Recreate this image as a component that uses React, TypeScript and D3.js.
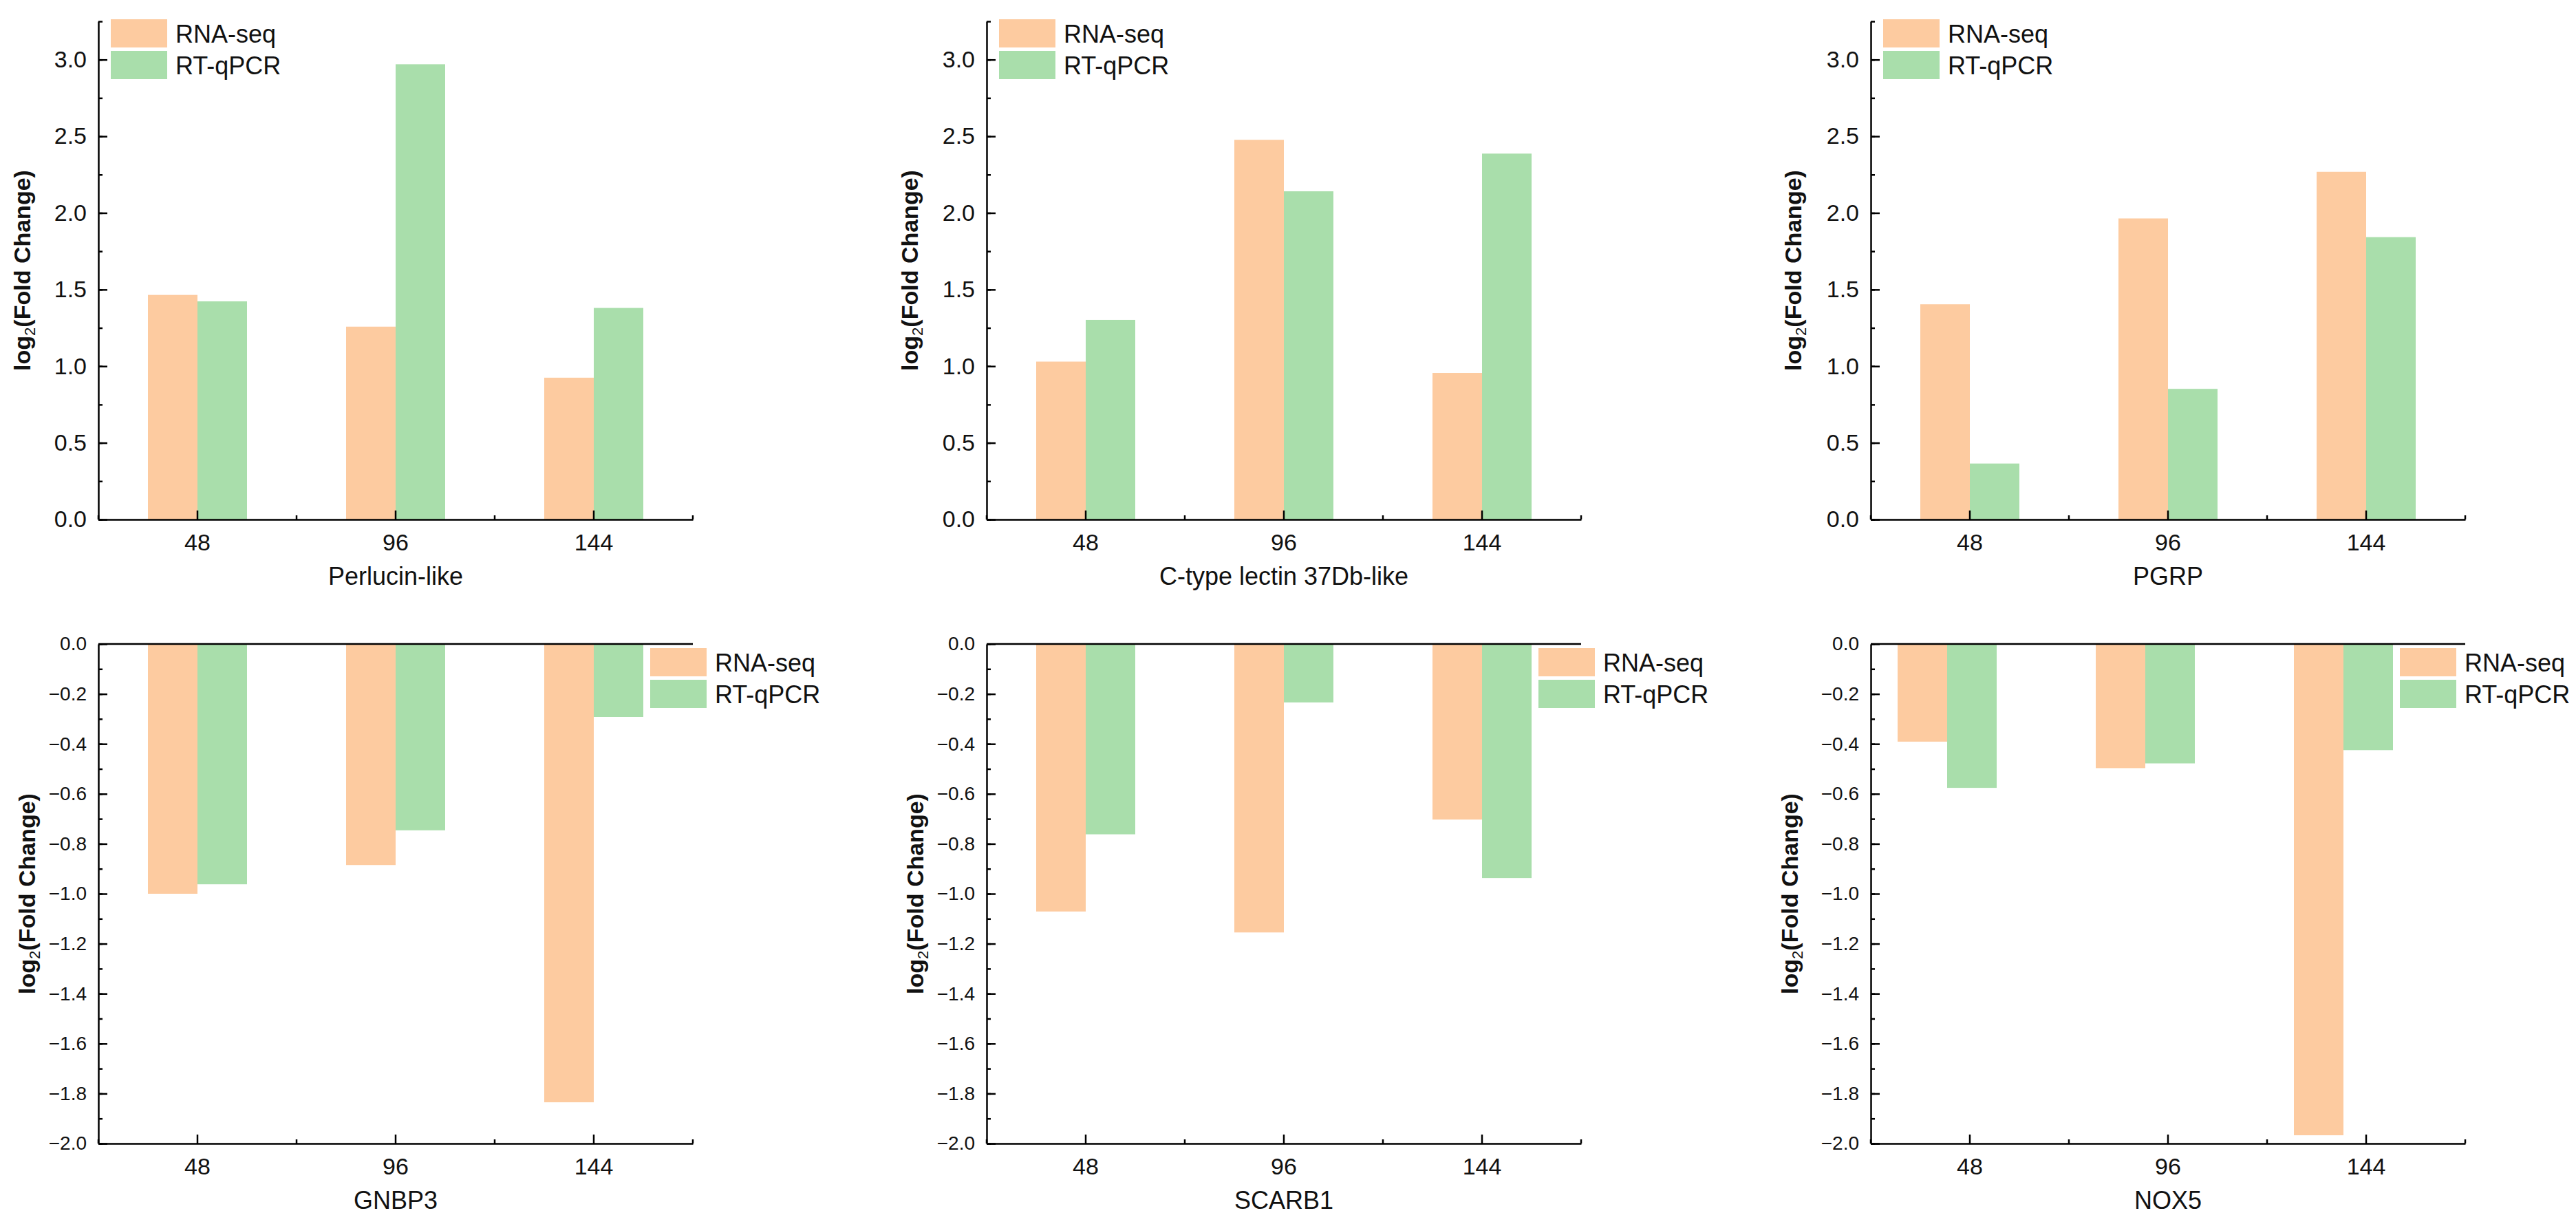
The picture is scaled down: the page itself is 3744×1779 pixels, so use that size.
import { useEffect, useRef } from 'react';
import * as d3 from 'd3';

// time points (h)
const hours = ['48', '96', '144'];
const seriesNames = ['RNA-seq', 'RT-qPCR'];

// log2 fold change
const perlucinRnaSeq = [1.465, 1.258, 0.925];
const perlucinQpcr = [1.423, 2.97, 1.38];
const lectinRnaSeq = [1.03, 2.477, 0.956];
const lectinQpcr = [1.302, 2.141, 2.387];
const pgrpRnaSeq = [1.404, 1.964, 2.268];
const pgrpQpcr = [0.365, 0.852, 1.842];
const gnbp3RnaSeq = [-1.0, -0.885, -1.835];
const gnbp3Qpcr = [-0.962, -0.746, -0.292];
const scarb1RnaSeq = [-1.071, -1.155, -0.703];
const scarb1Qpcr = [-0.762, -0.234, -0.937];
const nox5RnaSeq = [-0.391, -0.497, -1.967];
const nox5Qpcr = [-0.576, -0.478, -0.425];

// tick labels
const upTicks = [0, 0.5, 1, 1.5, 2, 2.5, 3];
const downTicks = [-2, -1.8, -1.6, -1.4, -1.2, -1, -0.8, -0.6, -0.4, -0.2, 0];

const W = 3744;
const H = 1779;
const COLORS = ['#FDCBA0', '#A9DEAB'];
const FONT = 'Arial, "Liberation Sans", sans-serif';

export default function App() {
  const svgRef = useRef<SVGSVGElement>(null);

  useEffect(() => {
    document.body.style.margin = '0';
    if (!svgRef.current) return;
    const svg = d3.select(svgRef.current);
    svg.selectAll('*').remove();

    const rows = [
      { domain: [0, 3.25], range: [755, 31], ticks: upTicks, minorStep: 0.25, tickFont: 34, axisAt: 0, legendDx: 18, legendY: 28, topLine: false },
      { domain: [-2, 0], range: [1662, 936], ticks: downTicks, minorStep: 0.1, tickFont: 28, axisAt: -2, legendDx: 802, legendY: 942, topLine: true },
    ];

    const panels = [
      { gene: 'Perlucin-like', rna: perlucinRnaSeq, qpcr: perlucinQpcr, row: 0, x0: 143, labelGap: 111, shift: 0 },
      { gene: 'C-type lectin 37Db-like', rna: lectinRnaSeq, qpcr: lectinQpcr, row: 0, x0: 1434, labelGap: 112, shift: 0 },
      { gene: 'PGRP', rna: pgrpRnaSeq, qpcr: pgrpQpcr, row: 0, x0: 2719, labelGap: 113, shift: 0 },
      { gene: 'GNBP3', rna: gnbp3RnaSeq, qpcr: gnbp3Qpcr, row: 1, x0: 143, labelGap: 104, shift: 0 },
      { gene: 'SCARB1', rna: scarb1RnaSeq, qpcr: scarb1Qpcr, row: 1, x0: 1434, labelGap: 104, shift: 0 },
      { gene: 'NOX5', rna: nox5RnaSeq, qpcr: nox5Qpcr, row: 1, x0: 2719, labelGap: 118, shift: -33 },
    ];

    const plotW = 864;
    const fmt = d3.format('.1f');

    panels.forEach(p => {
      const r = rows[p.row];
      const g = svg.append('g');

      const x = d3.scaleBand<string>().domain(hours).range([p.x0, p.x0 + plotW]).padding(0);
      const y = d3.scaleLinear().domain(r.domain).range(r.range);
      const bw = x.bandwidth() * 0.25;
      const axisY = y(r.axisAt);

      // bars
      [p.rna, p.qpcr].forEach((vals, si) => {
        g.append('g')
          .selectAll('rect')
          .data(vals)
          .join('rect')
          .attr('x', (_, i) => x(hours[i])! + x.bandwidth() / 2 - bw + si * bw + p.shift)
          .attr('width', bw)
          .attr('y', d => Math.min(y(0), y(d)))
          .attr('height', d => Math.abs(y(d) - y(0)))
          .attr('fill', COLORS[si]);
      });

      // y axis, major + minor, ticks pointing inward
      const minor = d3.range(0, Math.round((r.domain[1] - r.domain[0]) / r.minorStep) + 1)
        .map(i => r.domain[0] + i * r.minorStep);
      const yMinor = g.append('g')
        .attr('transform', `translate(${p.x0},0)`)
        .call(d3.axisLeft(y).tickValues(minor).tickSize(-6).tickSizeOuter(0).tickFormat(() => ''));
      yMinor.select('.domain').remove();
      yMinor.selectAll('line').attr('stroke', '#000').attr('stroke-width', 2.5);

      const yAxis = g.append('g')
        .attr('transform', `translate(${p.x0},0)`)
        .call(d3.axisLeft(y).tickValues(r.ticks).tickSize(-13).tickSizeOuter(0).tickPadding(17)
          .tickFormat(d => fmt(+d)));
      yAxis.select('.domain').attr('stroke', '#000').attr('stroke-width', 2.5);
      yAxis.selectAll('line').attr('stroke', '#000').attr('stroke-width', 2.5);
      yAxis.selectAll('text')
        .attr('fill', '#111')
        .style('font-family', FONT)
        .style('font-size', `${r.tickFont}px`);

      // x axis
      const xMinor = g.append('g')
        .attr('transform', `translate(0,${axisY})`);
      xMinor.selectAll('line')
        .data(d3.range(hours.length + 1))
        .join('line')
        .attr('x1', i => p.x0 + i * x.step())
        .attr('x2', i => p.x0 + i * x.step())
        .attr('y1', 0)
        .attr('y2', -6)
        .attr('stroke', '#000')
        .attr('stroke-width', 2.5);

      const xAxis = g.append('g')
        .attr('transform', `translate(0,${axisY})`)
        .call(d3.axisBottom(x).tickSize(-13).tickSizeOuter(0).tickPadding(21));
      xAxis.select('.domain').attr('stroke', '#000').attr('stroke-width', 2.5);
      xAxis.selectAll('line').attr('stroke', '#000').attr('stroke-width', 2.5);
      xAxis.selectAll('text')
        .attr('fill', '#111')
        .style('font-family', FONT)
        .style('font-size', '34px');

      if (r.topLine) {
        g.append('line')
          .attr('x1', p.x0).attr('x2', p.x0 + plotW)
          .attr('y1', y(0)).attr('y2', y(0))
          .attr('stroke', '#000').attr('stroke-width', 2.5);
      }

      // x title
      g.append('text')
        .attr('x', p.x0 + plotW / 2)
        .attr('y', axisY + 95)
        .attr('text-anchor', 'middle')
        .attr('fill', '#111')
        .style('font-family', FONT)
        .style('font-size', '36px')
        .text(p.gene);

      // y title with subscript
      const ly = (r.range[0] + r.range[1]) / 2;
      const lx = p.x0 - p.labelGap;
      const yt = g.append('text')
        .attr('transform', `translate(${lx},${ly}) rotate(-90)`)
        .attr('dy', '0.35em')
        .attr('text-anchor', 'middle')
        .attr('fill', '#111')
        .style('font-family', FONT)
        .style('font-size', '34px')
        .style('font-weight', 'bold');
      yt.append('tspan').text('log');
      yt.append('tspan').attr('dy', 7).style('font-size', '22px').style('font-weight', 'normal').text('2');
      yt.append('tspan').attr('dy', -7).text('(Fold Change)');

      // legend
      const lg = g.append('g')
        .attr('transform', `translate(${p.x0 + r.legendDx + p.shift},${r.legendY})`);
      seriesNames.forEach((name, si) => {
        lg.append('rect')
          .attr('x', 0).attr('y', si * 46)
          .attr('width', 82).attr('height', 41)
          .attr('fill', COLORS[si]);
        lg.append('text')
          .attr('x', 94).attr('y', si * 46 + 34)
          .attr('fill', '#111')
          .style('font-family', FONT)
          .style('font-size', '36px')
          .text(name);
      });
    });
  }, []);

  return (
    <svg ref={svgRef} width={W} height={H} viewBox={`0 0 ${W} ${H}`}
      style={{ display: 'block', background: '#fff' }}></svg>
  );
}
